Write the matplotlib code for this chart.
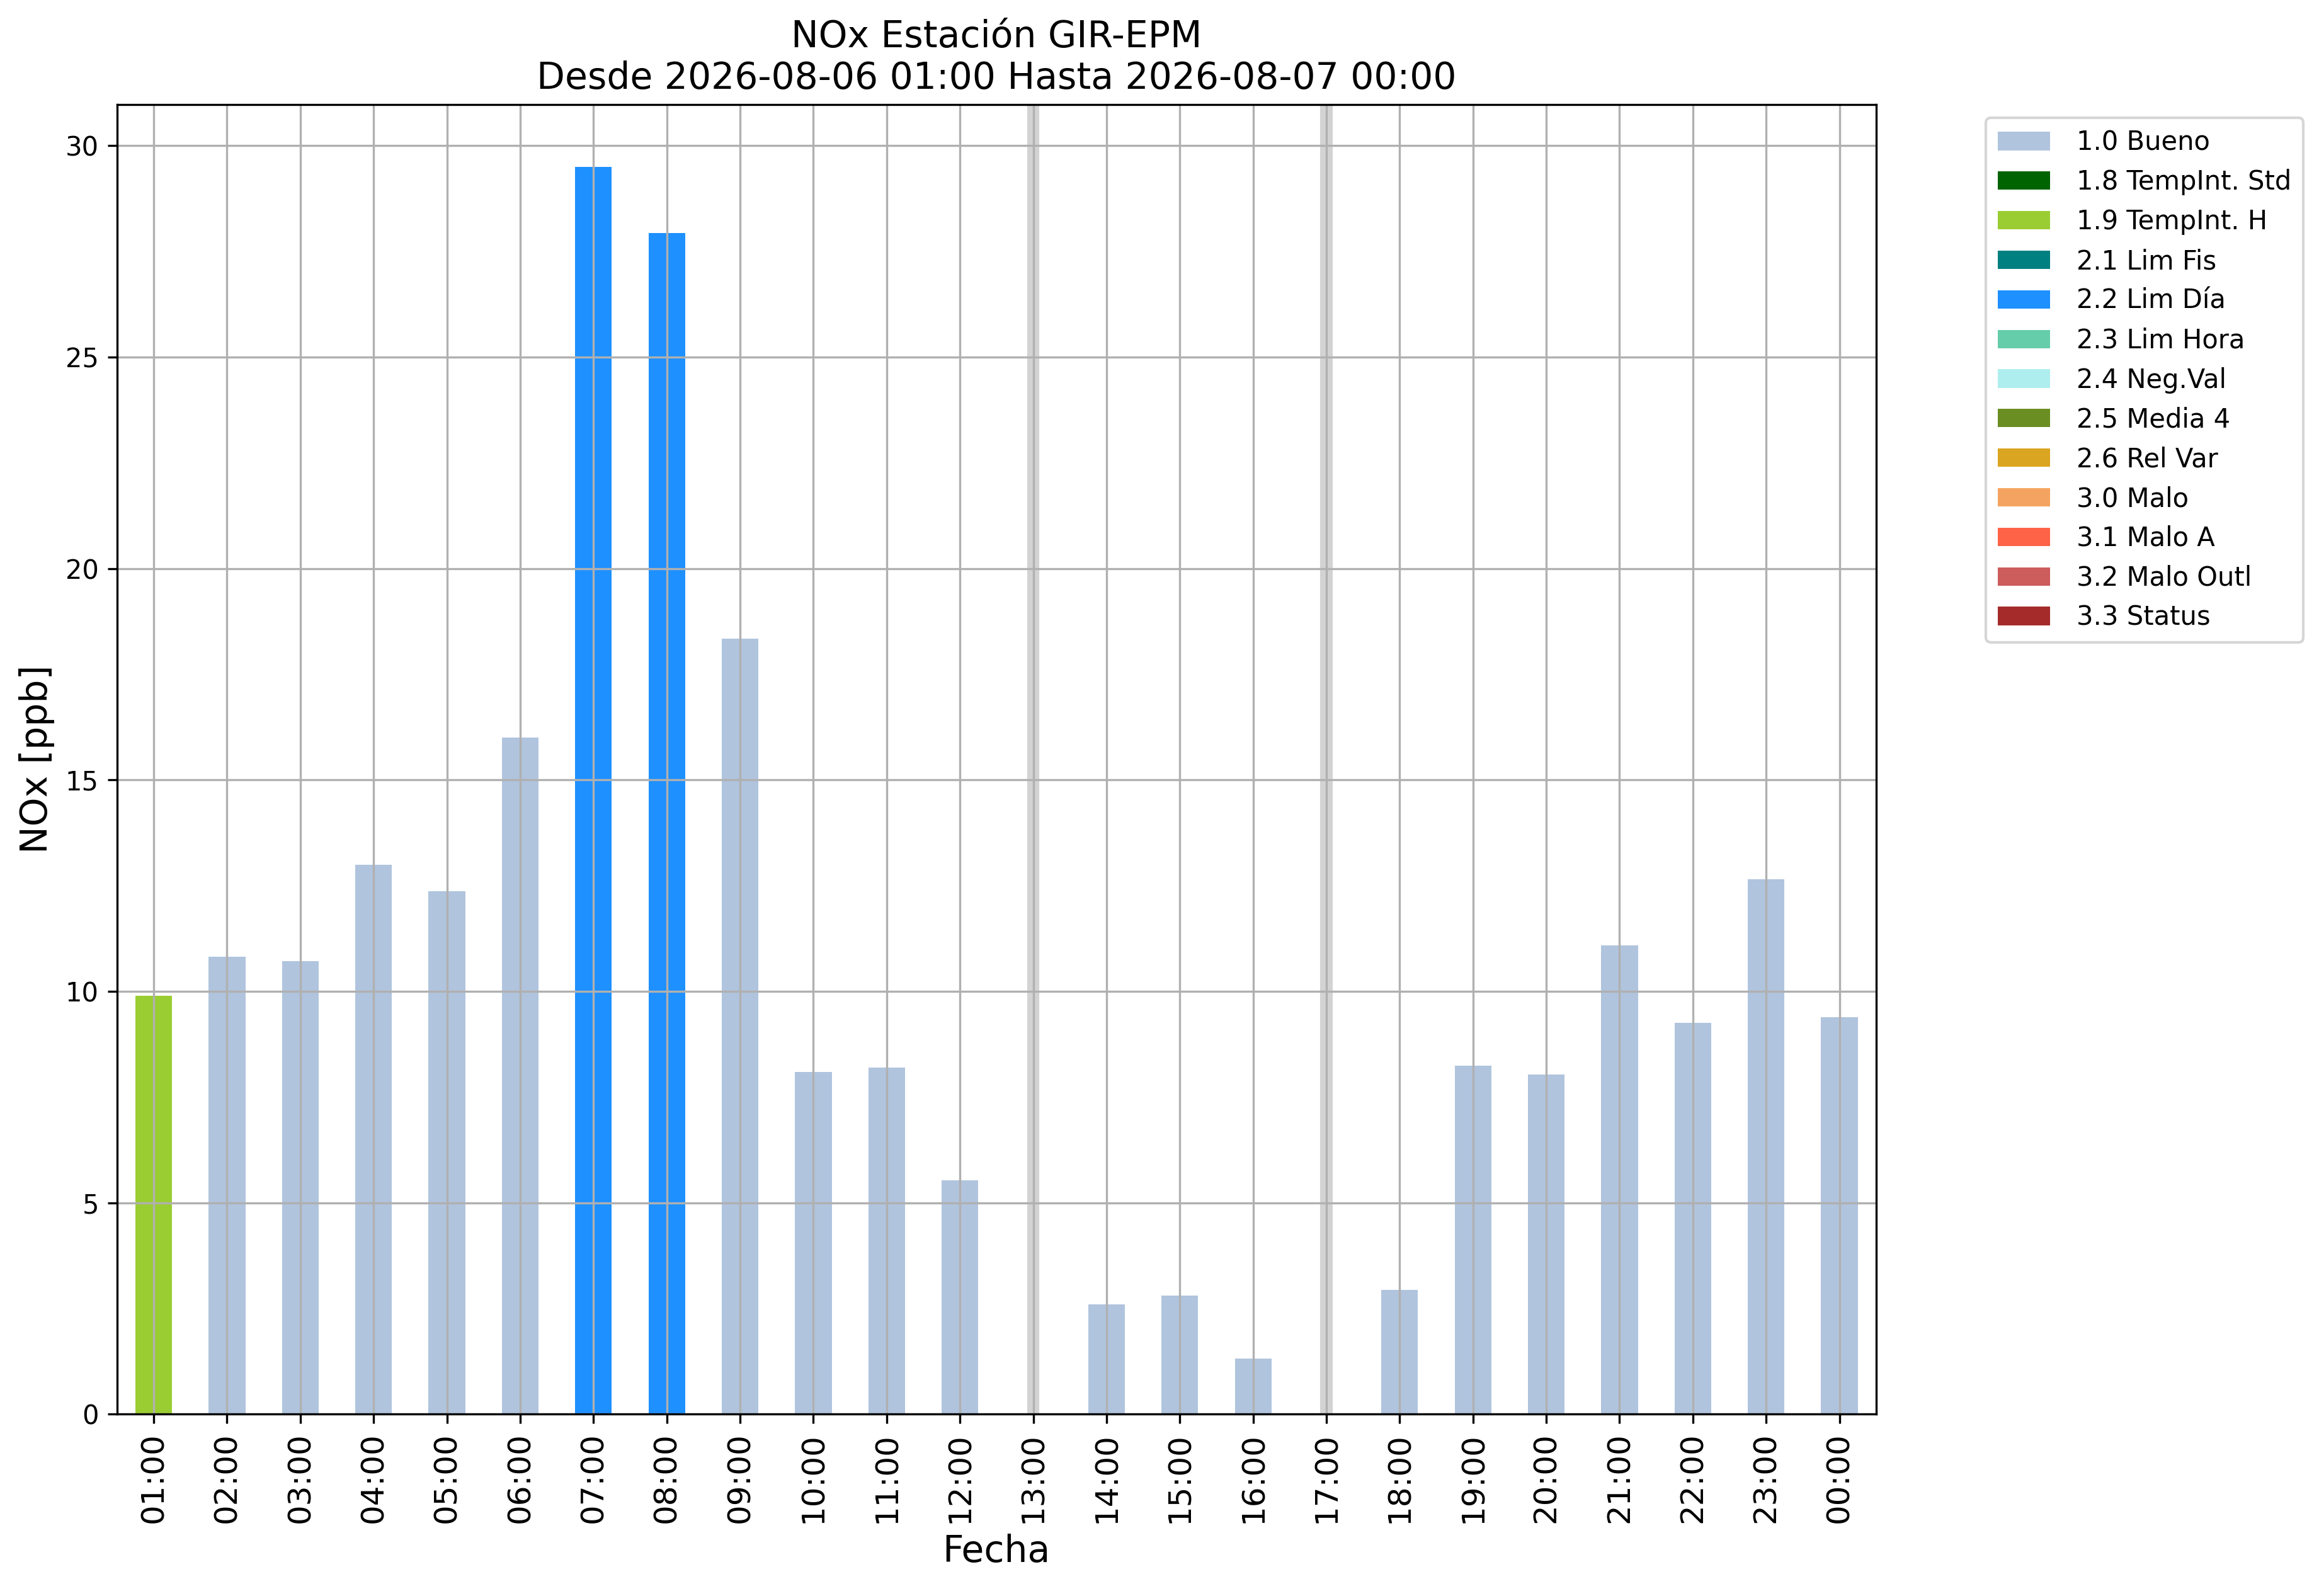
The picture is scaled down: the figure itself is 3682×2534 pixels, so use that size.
import numpy as np
import matplotlib
matplotlib.use("Agg")
import matplotlib.pyplot as plt
from matplotlib.patches import Patch

# horas del periodo
horas = ["01:00", "02:00", "03:00", "04:00", "05:00", "06:00", "07:00", "08:00",
         "09:00", "10:00", "11:00", "12:00", "13:00", "14:00", "15:00", "16:00",
         "17:00", "18:00", "19:00", "20:00", "21:00", "22:00", "23:00", "00:00"]

# NOx [ppb], nan = dato faltante
nox = [9.9, 10.82, 10.71, 12.99, 12.36, 16.0, 29.5, 27.93,
       18.34, 8.09, 8.2, 5.53, np.nan, 2.59, 2.8, 1.32,
       np.nan, 2.94, 8.24, 8.03, 11.08, 9.26, 12.65, 9.39]

# bandera de calidad de cada hora
bandera = ["1.9", "1.0", "1.0", "1.0", "1.0", "1.0", "2.2", "2.2",
           "1.0", "1.0", "1.0", "1.0", None, "1.0", "1.0", "1.0",
           None, "1.0", "1.0", "1.0", "1.0", "1.0", "1.0", "1.0"]

# etiquetas y colores de las banderas
flag_codes = ["1.0", "1.8", "1.9", "2.1", "2.2", "2.3", "2.4", "2.5",
              "2.6", "3.0", "3.1", "3.2", "3.3"]
flag_names = ["1.0 Bueno", "1.8 TempInt. Std", "1.9 TempInt. H", "2.1 Lim Fis",
              "2.2 Lim Día", "2.3 Lim Hora", "2.4 Neg.Val", "2.5 Media 4",
              "2.6 Rel Var", "3.0 Malo", "3.1 Malo A", "3.2 Malo Outl", "3.3 Status"]
flag_colors = ["lightsteelblue", "darkgreen", "yellowgreen", "teal", "dodgerblue",
               "mediumaquamarine", "paleturquoise", "olivedrab", "goldenrod",
               "sandybrown", "tomato", "indianred", "brown"]

color_map = dict(zip(flag_codes, flag_colors))

fig = plt.figure(figsize=(3682 / 300, 2534 / 300), dpi=300)
ax = fig.add_axes([0.0505, 0.114, 0.7585, 0.8205])

x = np.arange(len(horas))
vals = np.array(nox, dtype=float)
cols = [color_map[b] if b is not None else "white" for b in bandera]

ax.bar(x, np.nan_to_num(vals), width=0.5, color=cols)

# marcar horas sin dato
for i, v in enumerate(vals):
    if np.isnan(v):
        ax.axvspan(i - 0.065, i + 0.065, color="lightgray", zorder=0.5)

ax.set_xlim(-0.5, len(horas) - 0.5)
ax.set_ylim(0, np.nanmax(vals) * 1.05)
ax.set_xticks(x)
ax.set_xticklabels(horas, rotation=90, fontsize=12)
ax.tick_params(axis="y", labelsize=10)
ax.grid(True)

ax.set_xlabel("Fecha", fontsize=14)
ax.set_ylabel("NOx [ppb]", fontsize=14)
ax.set_title("NOx Estación GIR-EPM\nDesde 2026-08-06 01:00 Hasta 2026-08-07 00:00",
             fontsize=14)

handles = [Patch(facecolor=c, label=n) for c, n in zip(flag_colors, flag_names)]
ax.legend(handles=handles, loc="upper left", bbox_to_anchor=(1.055, 1), fontsize=10,
          handletextpad=1.0, borderpad=0.45)

fig.savefig("out.png", dpi=300)
